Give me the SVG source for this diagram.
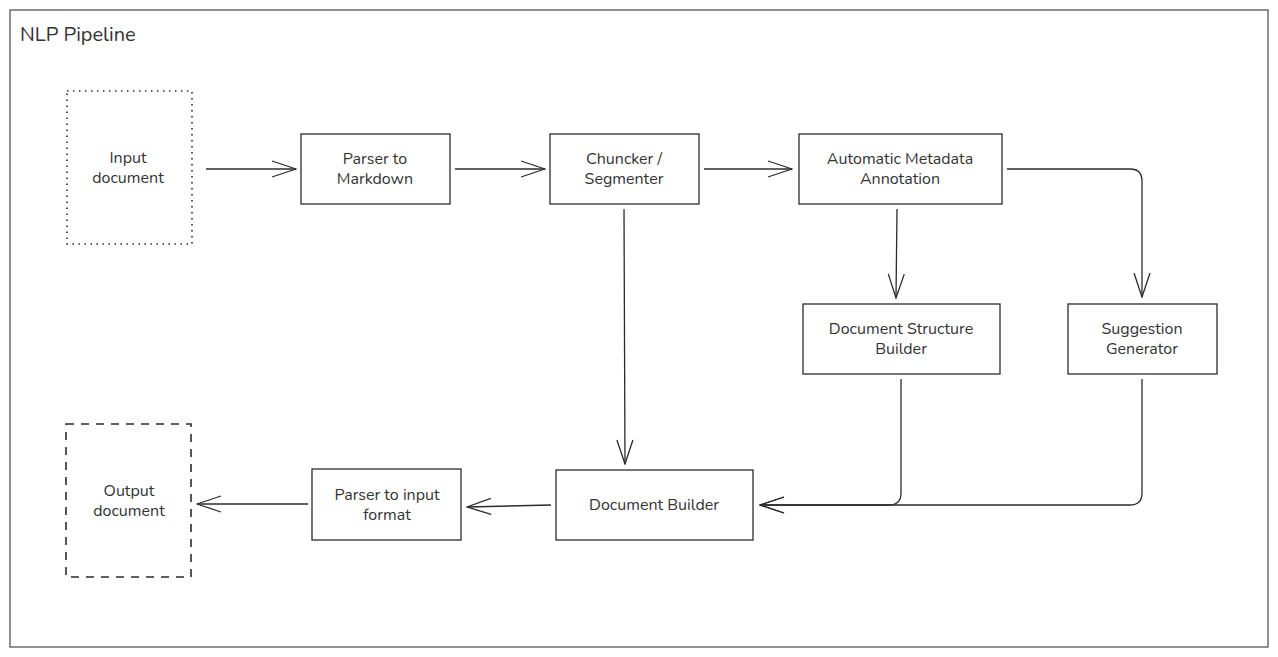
<svg xmlns="http://www.w3.org/2000/svg" width="1278" height="657" viewBox="0 0 1278 657">
<style>
.box{fill:#fff;stroke:#2b2b2b;stroke-width:1.3}
.lbl{font-family:"Nunito","Noto Sans","Open Sans",sans-serif;font-size:16px;fill:#333;text-anchor:middle}
.con{fill:none;stroke:#2b2b2b;stroke-width:1.3;marker-end:url(#ah)}
</style>
<defs>
<marker id="ah" viewBox="0 0 26 18" refX="25" refY="9" markerWidth="26" markerHeight="18" markerUnits="userSpaceOnUse" orient="auto">
<path d="M1,1 L25,9 L1,17" fill="none" stroke="#2b2b2b" stroke-width="1.3"/>
</marker>
</defs>
<rect x="0" y="0" width="1278" height="657" fill="#fff"/>
<g id="frame">
<rect x="10" y="10" width="1258" height="637" fill="none" stroke="#555" stroke-width="1.3"/>
<text x="20" y="41" font-family="Nunito,'Noto Sans','Open Sans',sans-serif" font-size="20" fill="#333">NLP Pipeline</text>
</g>
<g id="connectors">
<path class="con" d="M206,169 L296,169"/>
<path class="con" d="M455,169 L545,169"/>
<path class="con" d="M704,169 L792,169"/>
<path class="con" d="M1007,169 L1130,169 Q1142,169 1142,181 L1142,297"/>
<path class="con" d="M897,209 L896,298"/>
<path class="con" d="M624,209 L625,464"/>
<path class="con" d="M901,379 L901,493 Q901,505 889,505 L760,505"/>
<path class="con" d="M1142,379 L1142,493 Q1142,505 1130,505 L760,505"/>
<path class="con" d="M551,505 L467,507"/>
<path class="con" d="M308,504 L197,504"/>
</g>
<g id="input-document">
<rect x="67" y="91" width="125" height="153" fill="none" stroke="#2b2b2b" stroke-width="1.6" stroke-dasharray="1.5,4.5"/>
<text class="lbl" x="128" y="163">Input</text>
<text class="lbl" x="128" y="183">document</text>
</g>
<g id="parser-to-markdown">
<rect class="box" x="301" y="134" width="149" height="70"/>
<text class="lbl" x="375" y="164">Parser to</text>
<text class="lbl" x="375" y="184">Markdown</text>
</g>
<g id="chuncker">
<rect class="box" x="550" y="134" width="149" height="70"/>
<text class="lbl" x="624" y="164">Chuncker /</text>
<text class="lbl" x="624" y="184">Segmenter</text>
</g>
<g id="metadata">
<rect class="box" x="799" y="134" width="203" height="70"/>
<text class="lbl" x="900" y="164">Automatic Metadata</text>
<text class="lbl" x="900" y="184">Annotation</text>
</g>
<g id="structure-builder">
<rect class="box" x="803" y="304" width="197" height="70"/>
<text class="lbl" x="901" y="334">Document Structure</text>
<text class="lbl" x="901" y="354">Builder</text>
</g>
<g id="suggestion">
<rect class="box" x="1068" y="304" width="149" height="70"/>
<text class="lbl" x="1142" y="334">Suggestion</text>
<text class="lbl" x="1142" y="354">Generator</text>
</g>
<g id="document-builder">
<rect class="box" x="556" y="470" width="197" height="70"/>
<text class="lbl" x="654" y="510">Document Builder</text>
</g>
<g id="parser-to-input">
<rect class="box" x="312" y="469" width="149" height="71"/>
<text class="lbl" x="387" y="500">Parser to input</text>
<text class="lbl" x="387" y="520">format</text>
</g>
<g id="output-document">
<rect x="66" y="424" width="125" height="153" fill="none" stroke="#2b2b2b" stroke-width="1.6" stroke-dasharray="8,7"/>
<text class="lbl" x="129" y="496">Output</text>
<text class="lbl" x="129" y="516">document</text>
</g>
</svg>
